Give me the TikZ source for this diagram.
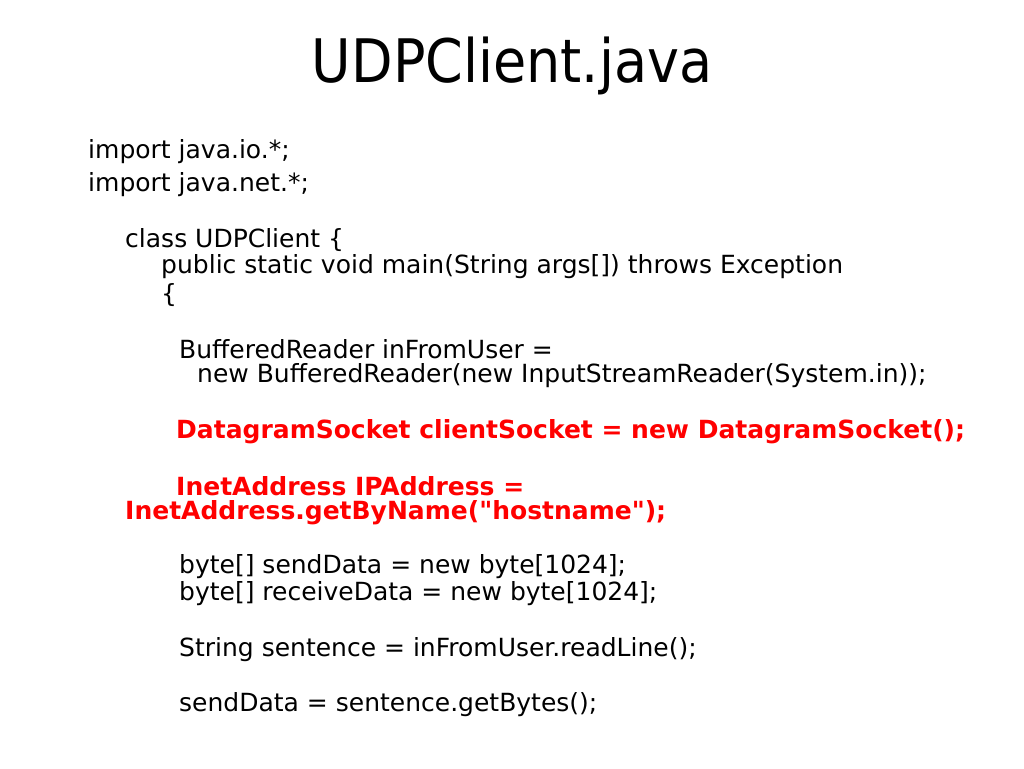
\documentclass[tikz,border=0pt]{standalone}
\usepackage{fontspec}
\setmainfont{DejaVu Sans}[Ligatures=TeXOff]
\newfontfamily\condfont{DejaVu Sans Condensed}
\begin{document}
\begin{tikzpicture}[x=1pt,y=-1pt,
  ln/.style={anchor=west,inner sep=0pt,font=\fontsize{25}{30}\selectfont},
  rd/.style={ln,text=red,font=\fontsize{25}{30}\selectfont\bfseries}]
\useasboundingbox (0,0) rectangle (1024,768);
\node[anchor=center,inner sep=0pt,font=\condfont\fontsize{60}{70}\selectfont] (title) at (512,66) {UDPClient.java};
\node[ln] (l1) at (88,152) {import java.io.*;};
\node[ln] (l2) at (88,185) {import java.net.*;};
\node[ln] (l3) at (125,240) {class UDPClient \{};
\node[ln] (l4) at (161,267) {public static void main(String args[]) throws Exception};
\node[ln] (l5) at (161,295) {\{};
\node[ln] (l6) at (179,349) {BufferedReader inFromUser =};
\node[ln] (l7) at (197,376) {new BufferedReader(new InputStreamReader(System.in));};
\node[rd] (l8) at (176,432) {DatagramSocket clientSocket = new DatagramSocket();};
\node[rd] (l9) at (176,486) {InetAddress IPAddress =};
\node[rd] (l10) at (125,513) {InetAddress.getByName("hostname");};
\node[ln] (l11) at (179,567) {byte[] sendData = new byte[1024];};
\node[ln] (l12) at (179,594) {byte[] receiveData = new byte[1024];};
\node[ln] (l13) at (179,650) {String sentence = inFromUser.readLine();};
\node[ln] (l14) at (179,705) {sendData = sentence.getBytes();};
\end{tikzpicture}
\end{document}
